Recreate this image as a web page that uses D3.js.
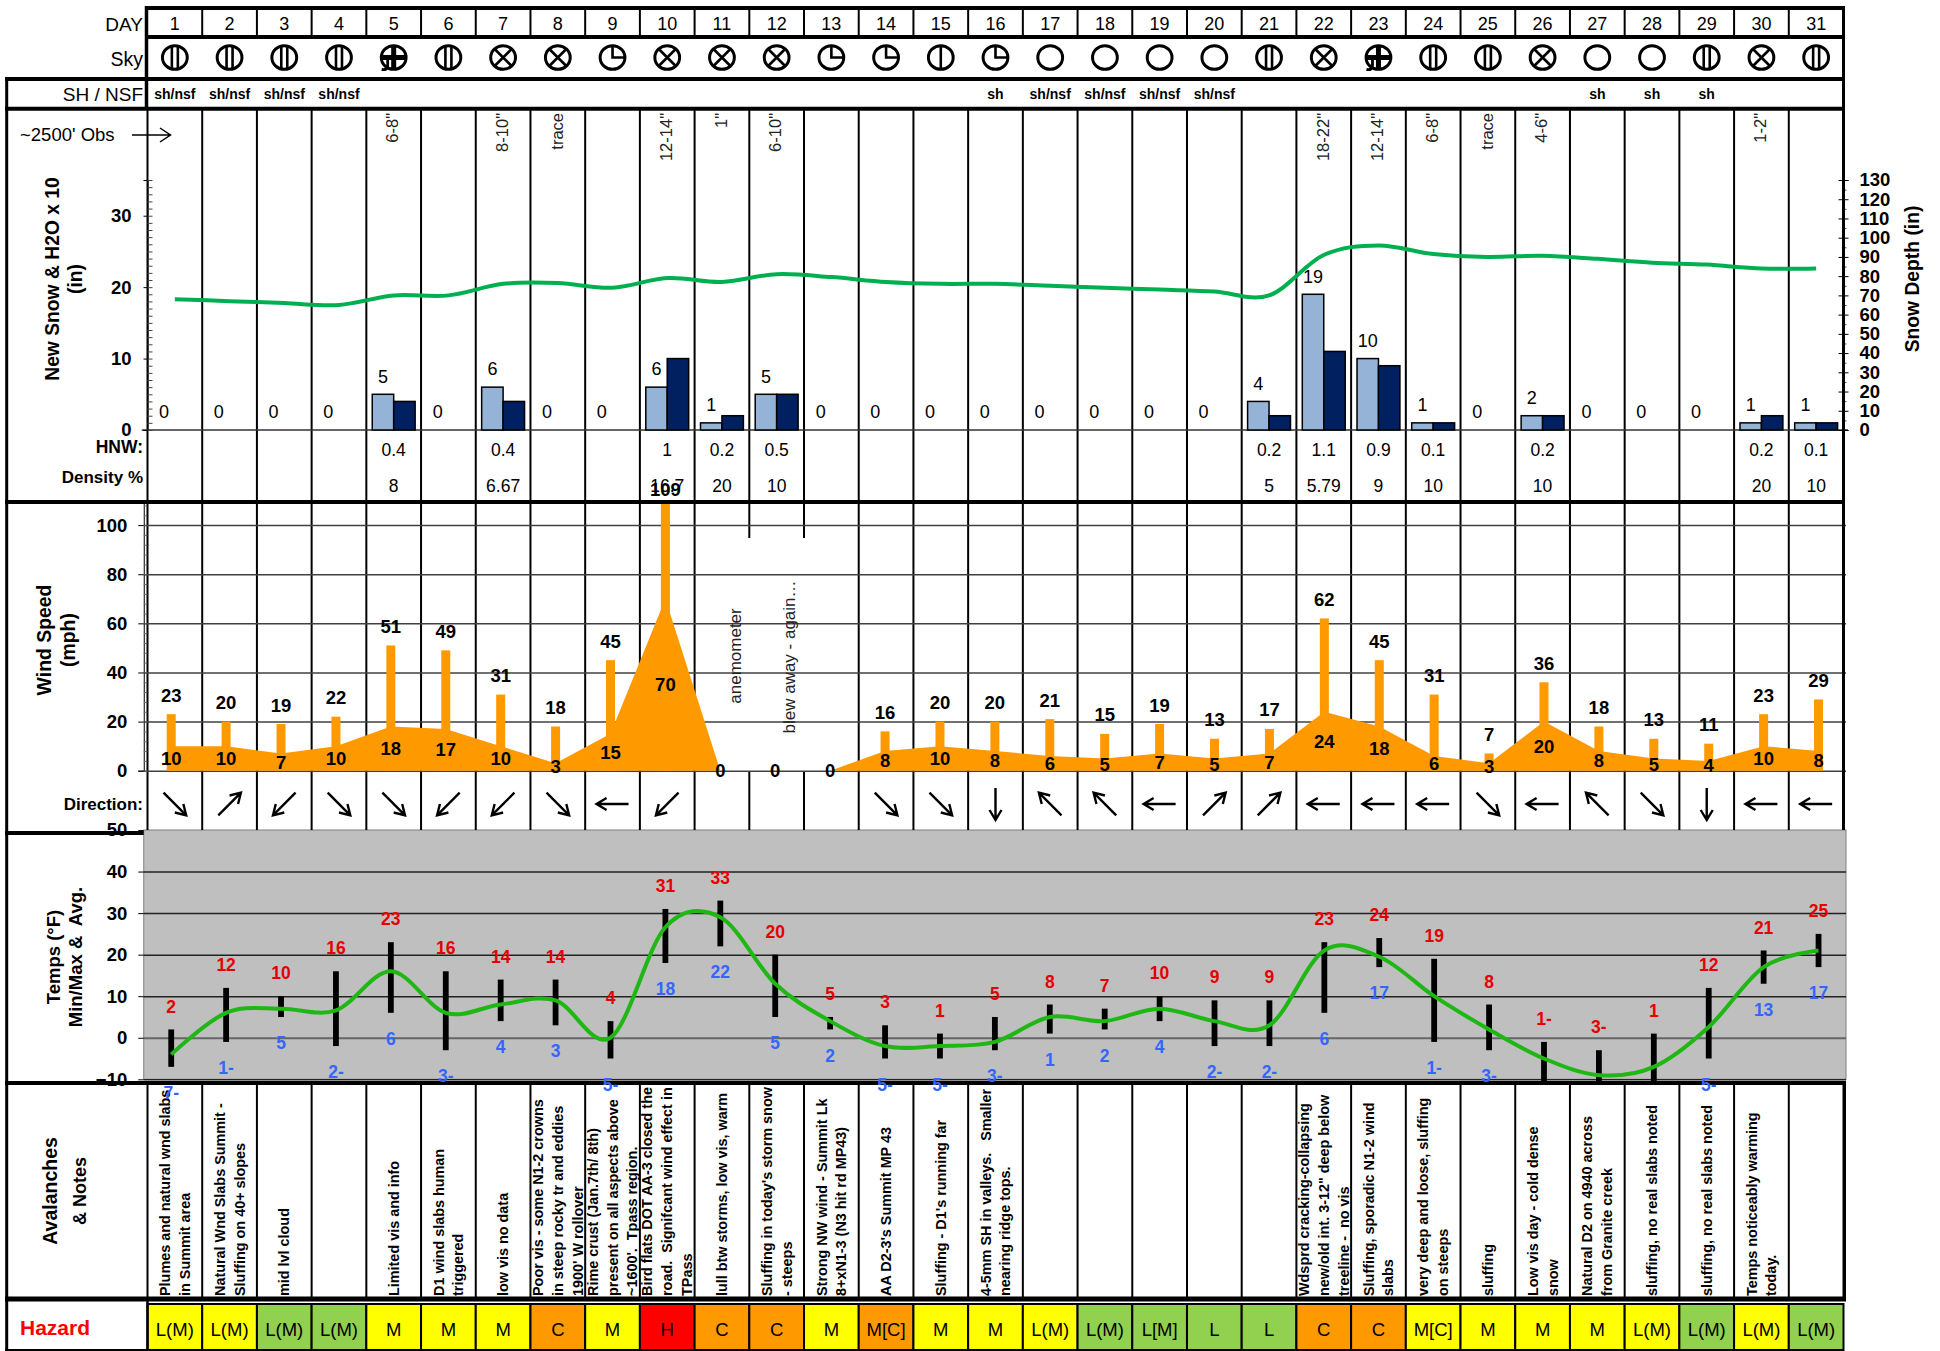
<!DOCTYPE html>
<html>
<head>
<meta charset="utf-8">
<style>
	body { margin: 0; background: #fff; }
	text { font-family: "Liberation Sans", Arial, sans-serif; white-space: pre; }
</style>
<script src="https://cdn.jsdelivr.net/npm/d3@7"></script>
</head>
<body>
<script>
const days = d3.range(1, 32);
const sky = ["bars", "bars", "bars", "bars", "plus", "bars", "x", "x", "quarter", "x", "x", "x", "quarter", "quarter", "half", "quarter", "clear", "clear", "clear", "clear", "bars", "x", "plus", "bars", "bars", "x", "clear", "clear", "bars", "x", "bars"];
const shNsf = ["sh/nsf", "sh/nsf", "sh/nsf", "sh/nsf", "", "", "", "", "", "", "", "", "", "", "", "sh", "sh/nsf", "sh/nsf", "sh/nsf", "sh/nsf", "", "", "", "", "", "", "sh", "sh", "sh", "", ""];
const obsAmount = ["", "", "", "", "6-8\"", "", "8-10\"", "trace", "", "12-14\"", "1\"", "6-10\"", "", "", "", "", "", "", "", "", "", "18-22\"", "12-14\"", "6-8\"", "trace", "4-6\"", "", "", "", "1-2\"", ""];
const newSnow = [0, 0, 0, 0, 5, 0, 6, 0, 0, 6, 1, 5, 0, 0, 0, 0, 0, 0, 0, 0, 4, 19, 10, 1, 0, 2, 0, 0, 0, 1, 1];
const h2o = [0, 0, 0, 0, 4, 0, 4, 0, 0, 10, 2, 5, 0, 0, 0, 0, 0, 0, 0, 0, 2, 11, 9, 1, 0, 2, 0, 0, 0, 2, 1];
const snowDepth = [68, 67, 66, 65, 70, 70, 76, 76.4, 74, 79, 77, 81, 79.5, 77, 76, 76, 75, 74, 73, 72, 70, 91, 96, 91.5, 90, 90.6, 89, 87, 86, 84, 84];
const hnw = ["", "", "", "", "0.4", "", "0.4", "", "", "1", "0.2", "0.5", "", "", "", "", "", "", "", "", "0.2", "1.1", "0.9", "0.1", "", "0.2", "", "", "", "0.2", "0.1"];
const density = ["", "", "", "", "8", "", "6.67", "", "", "16.7", "20", "10", "", "", "", "", "", "", "", "", "5", "5.79", "9", "10", "", "10", "", "", "", "20", "10"];
const windGust = [23, 20, 19, 22, 51, 49, 31, 18, 45, 109, null, null, null, 16, 20, 20, 21, 15, 19, 13, 17, 62, 45, 31, 7, 36, 18, 13, 11, 23, 29];
const windAvg = [10, 10, 7, 10, 18, 17, 10, 3, 15, 70, 0, 0, 0, 8, 10, 8, 6, 5, 7, 5, 7, 24, 18, 6, 3, 20, 8, 5, 4, 10, 8];
const windDir = ["SE", "NE", "SW", "SE", "SE", "SW", "SW", "SE", "W", "SW", "", "", "", "SE", "SE", "S", "NW", "NW", "W", "NE", "NE", "W", "W", "W", "SE", "W", "NW", "SE", "S", "W", "W"];
const tempMax = [2, 12, 10, 16, 23, 16, 14, 14, 4, 31, 33, 20, 5, 3, 1, 5, 8, 7, 10, 9, 9, 23, 24, 19, 8, -1, -3, 1, 12, 21, 25];
const tempMin = [-7, -1, 5, -2, 6, -3, 4, 3, -5, 18, 22, 5, 2, -5, -5, -3, 1, 2, 4, -2, -2, 6, 17, -1, -3, -12, -13, -12, -5, 13, 17];
const tempAvg = [-4, 6, 7, 6.6, 16, 6, 8, 9, 0, 26.6, 29, 13, 4, -2, -2, -1, 5, 4, 7, 4, 3, 21, 19.5, 10, 2, -5, -9, -7, 2.6, 17, 21];
// min labels for 26-28 fall off the panel in the original
const hiddenMinLabels = [26, 27, 28];
const notes = [
	["Plumes and natural wnd slabs", "in Summit area"],
	["Natural Wnd Slabs Summit -", "Sluffing on 40+ slopes"],
	["mid lvl cloud"],
	[],
	["Limited vis and info"],
	["D1 wind slabs human", "triggered"],
	["low vis no data"],
	["Poor vis - some N1-2 crowns", "in steep rocky tr and eddies", "1900' W rollover"],
	["Rime crust (Jan.7th/ 8th)", "present on all aspects above", "~1600'.  Tpass region."],
	["Bird flats DOT AA-3 closed the", "road.  Signifcant wind effect in", "TPass"],
	["lull btw storms, low vis, warm"],
	["Sluffing in today's storm snow", "- steeps"],
	["Strong NW wind - Summit Lk", "8+xN1-3 (N3 hit rd MP43)"],
	["AA D2-3's Summit MP 43"],
	["Sluffing - D1's running far"],
	["4-5mm SH in valleys.   Smaller", "nearing ridge tops."],
	[], [], [], [], [],
	["Wdsprd cracking-collapsing", "new/old int. 3-12\" deep below", "treeline -  no vis"],
	["Sluffing, sporadic N1-2 wind", "slabs"],
	["very deep and loose, sluffing", "on steeps"],
	["sluffing"],
	["Low vis day - cold dense", "snow"],
	["Natural D2 on 4940 across", "from Granite creek"],
	["sluffing, no real slabs noted"],
	["sluffing, no real slabs noted"],
	["Temps noticeably warming", "today."],
	[]
];
const hazard = ["L(M)", "L(M)", "L(M)", "L(M)", "M", "M", "M", "C", "M", "H", "C", "C", "M", "M[C]", "M", "M", "L(M)", "L(M)", "L[M]", "L", "L", "C", "C", "M[C]", "M", "M", "M", "L(M)", "L(M)", "L(M)", "L(M)"];
const hazardFill = ["y", "y", "g", "g", "y", "y", "y", "o", "y", "r", "o", "o", "y", "o", "y", "y", "y", "g", "g", "g", "g", "o", "o", "y", "y", "y", "y", "y", "g", "y", "g"];

const hazardColors = { y: "#ffff00", g: "#92d050", o: "#ff9900", r: "#ff0000" };
const compass = { N: 0, NE: 45, E: 90, SE: 135, S: 180, SW: 225, W: 270, NW: 315 };

const colLeft = 147.5, colRight = 1843.5;
const plotLeft = 143.75, plotRight = 1846;

const svg = d3.select("body").append("svg")
	.attr("width", 1940)
	.attr("height", 1351)
	.style("display", "block");

// columns of the table, and the slightly wider band the excel charts sat on
const xCol = d3.scaleBand().domain(days).range([colLeft, colRight]);
const xPlot = d3.scaleBand().domain(days).range([plotLeft, plotRight]);
const xBar = d3.scaleBand().domain(["snow", "h2o"]).range([5.9, 48.8]);

const snowY = d3.scaleLinear().domain([0, 35]).range([430, 180]);
const depthY = d3.scaleLinear().domain([0, 130]).range([430, 180]);
const windY = d3.scaleLinear().domain([0, 109]).range([770.7, 503]);
const tempY = d3.scaleLinear().domain([-10, 50]).range([1079.3, 830]);

const colCenter = d => xCol(d) + xCol.bandwidth() / 2;
const plotCenter = d => xPlot(d) + xPlot.bandwidth() / 2;

function label(g, x, y, txt, size, opts = {}) {
	return g.append("text")
		.attr("x", x)
		.attr("y", y)
		.attr("dy", "0.35em")
		.attr("text-anchor", opts.anchor || "middle")
		.attr("font-size", size + "px")
		.attr("font-weight", opts.bold ? "bold" : "normal")
		.attr("fill", opts.fill || "#000")
		.text(txt);
}

function rotLabel(g, x, y, txt, size, opts = {}) {
	return g.append("text")
		.attr("transform", `translate(${x},${y}) rotate(-90)`)
		.attr("dy", opts.dy || "0.35em")
		.attr("text-anchor", opts.anchor || "middle")
		.attr("font-size", size + "px")
		.attr("font-weight", opts.bold ? "bold" : "normal")
		.attr("fill", opts.fill || "#000")
		.text(txt);
}

function hLine(g, x1, x2, y, w, color = "#000") {
	g.append("line").attr("x1", x1).attr("x2", x2).attr("y1", y).attr("y2", y)
		.attr("stroke", color).attr("stroke-width", w);
}

function vLine(g, x, y1, y2, w, color = "#000") {
	g.append("line").attr("x1", x).attr("x2", x).attr("y1", y1).attr("y2", y2)
		.attr("stroke", color).attr("stroke-width", w);
}

function styleAxisText(g, size) {
	g.attr("font-family", null).attr("font-size", size).attr("font-weight", "bold");
	g.selectAll(".tick text").attr("fill", "#000");
}

/* ---- grey temp panel first, the table lines go over it ---- */
const base = svg.append("g");
base.append("rect")
	.attr("x", plotLeft).attr("y", tempY(50))
	.attr("width", plotRight - plotLeft).attr("height", tempY(-10) - tempY(50))
	.attr("fill", "#bfbfbf")
	.attr("stroke", "#7f7f7f").attr("stroke-width", 1);

/* ---- column lines ---- */
const colEdges = days.map(d => xCol(d)).concat([colRight]);
colEdges.forEach((x, i) => {
	if (i > 0 && i < 31) vLine(base, x, 8, 37, 2);
	// two lines are broken where the anemometer note sits
	if (i === 11 || i === 12) {
		vLine(base, x, 109, 538, 2);
		vLine(base, x, 771, 830, 2);
	} else {
		vLine(base, x, 109, 830, 2);
	}
	vLine(base, x, 1083, 1299, 2);
});

/* ---- wind and temp grids ---- */
base.append("g")
	.attr("transform", `translate(${plotLeft},0)`)
	.call(d3.axisRight(windY).tickValues(d3.range(0, 101, 20)).tickSize(plotRight - plotLeft).tickFormat(""))
	.call(g => g.select(".domain").remove())
	.selectAll("line").attr("stroke", "#404040").attr("stroke-width", 1.5);

base.append("g")
	.attr("transform", `translate(${plotLeft},0)`)
	.call(d3.axisRight(tempY).tickValues(d3.range(-10, 41, 10)).tickSize(plotRight - plotLeft).tickFormat(""))
	.call(g => g.select(".domain").remove())
	.selectAll("line")
	.attr("stroke", d => d === 0 ? "#666" : "#222")
	.attr("stroke-width", d => d === 0 ? 2 : 1.5);

/* ---- header rows ---- */
const header = svg.append("g");
days.forEach((d, i) => {
	label(header, colCenter(d), 24, d, 18);
	if (shNsf[i]) label(header, colCenter(d), 94, shNsf[i], 14, { bold: true });
	if (obsAmount[i]) rotLabel(header, colCenter(d) - 1, 113, obsAmount[i], 16.5, { anchor: "end", fill: "#222" });
	if (hnw[i]) label(header, colCenter(d), 450, hnw[i], 17.5);
	if (density[i]) label(header, colCenter(d), 486, density[i], 17.5);
});
label(header, 143, 24, "DAY", 19, { anchor: "end" });
label(header, 143, 59, "Sky", 19.5, { anchor: "end" });
label(header, 143, 94, "SH / NSF", 19, { anchor: "end" });
label(header, 20, 135, "~2500' Obs", 18.5, { anchor: "start" });
label(header, 143, 447, "HNW:", 17.5, { anchor: "end", bold: true });
label(header, 143, 477, "Density %", 17, { anchor: "end", bold: true });
label(header, 143, 804, "Direction:", 17, { anchor: "end", bold: true });

header.append("path")
	.attr("d", "M132,135H170M160,128L170.5,135L160,142")
	.attr("fill", "none").attr("stroke", "#000").attr("stroke-width", 1.5);

/* ---- sky symbols ---- */
const skyMarks = {
	bars: "M-3,-12V12M3,-12V12",
	x: "M-8.5,-8.5L8.5,8.5M8.5,-8.5L-8.5,8.5",
	quarter: "M0,-12.5V0H12.5",
	half: "M0,-12.5V12.5",
	clear: ""
};
days.forEach((d, i) => {
	const g = svg.append("g").attr("transform", `translate(${colCenter(d)},57.5)`);
	g.append("ellipse").attr("rx", 12.4).attr("ry", 11.8).attr("fill", "#fff").attr("stroke", "#000").attr("stroke-width", 3);
	if (sky[i] === "plus") {
		g.append("path").attr("d", "M0,-12.5V12.5M-12.5,0H12.5").attr("stroke", "#000").attr("stroke-width", 5);
		g.append("path").attr("d", "M-6,1V8Q-6,13-12,12").attr("fill", "none").attr("stroke", "#000").attr("stroke-width", 2.8);
	} else if (skyMarks[sky[i]]) {
		g.append("path").attr("d", skyMarks[sky[i]]).attr("fill", "none").attr("stroke", "#000").attr("stroke-width", 2.6);
	}
});

/* ---- snow chart ---- */
const snowChart = svg.append("g");
hLine(snowChart, plotLeft - 2, plotRight + 2, snowY(0), 1.5, "#333");

days.forEach((d, i) => {
	const x0 = xCol(d);
	if (newSnow[i] > 0) {
		snowChart.append("rect")
			.attr("x", x0 + xBar("snow")).attr("y", snowY(newSnow[i]))
			.attr("width", xBar.bandwidth()).attr("height", snowY(0) - snowY(newSnow[i]))
			.attr("fill", "#95b3d7").attr("stroke", "#000").attr("stroke-width", 1.5);
	}
	if (h2o[i] > 0) {
		snowChart.append("rect")
			.attr("x", x0 + xBar("h2o")).attr("y", snowY(h2o[i]))
			.attr("width", xBar.bandwidth()).attr("height", snowY(0) - snowY(h2o[i]))
			.attr("fill", "#002060").attr("stroke", "#000").attr("stroke-width", 1.5);
	}
	label(snowChart, x0 + xBar("snow") + xBar.bandwidth() / 2, snowY(newSnow[i]) - 18, newSnow[i], 18);
});

snowChart.append("path")
	.attr("d", d3.line().x(d => colCenter(d)).y((d, i) => depthY(snowDepth[i])).curve(d3.curveCatmullRom.alpha(0))(days))
	.attr("fill", "none").attr("stroke", "#00b050").attr("stroke-width", 4);

const snowAxis = snowChart.append("g")
	.attr("transform", `translate(${colLeft},0)`)
	.call(d3.axisLeft(snowY).tickValues([0, 10, 20, 30]).tickSize(4).tickPadding(12));
styleAxisText(snowAxis, 18.5);
snowChart.append("g")
	.attr("transform", `translate(${colLeft},0)`)
	.call(d3.axisRight(snowY).tickValues(d3.range(0, 36)).tickSize(5).tickFormat(""))
	.call(g => g.select(".domain").remove())
	.selectAll("line").attr("stroke", "#444");

const depthAxis = snowChart.append("g")
	.attr("transform", `translate(${colRight},0)`)
	.call(d3.axisRight(depthY).tickValues(d3.range(0, 131, 10)).tickSize(5).tickPadding(11));
styleAxisText(depthAxis, 18.5);
snowChart.append("g")
	.attr("transform", `translate(${colRight},0)`)
	.call(d3.axisLeft(depthY).tickValues(d3.range(0, 131, 10)).tickSize(5).tickFormat(""))
	.call(g => g.select(".domain").remove());
snowChart.append("g")
	.attr("transform", `translate(${colRight},0)`)
	.call(d3.axisRight(depthY).tickValues(d3.range(5, 131, 10)).tickSize(3).tickFormat(""))
	.call(g => g.select(".domain").remove())
	.selectAll("line").attr("stroke", "#444");

rotLabel(snowChart, 52, 279, "New Snow & H2O x 10", 19.3, { bold: true });
rotLabel(snowChart, 75, 279, "(in)", 19.3, { bold: true });
rotLabel(snowChart, 1912, 279, "Snow Depth (in)", 19.3, { bold: true });

/* ---- wind chart ---- */
const windChart = svg.append("g");
const windArea = d3.area()
	.x(d => plotCenter(d))
	.y0(windY(0))
	.y1((d, i) => windY(windAvg[i]));
windChart.append("path").attr("d", windArea(days)).attr("fill", "#ff9900");

const gustDays = days.filter((d, i) => windGust[i] !== null);
windChart.selectAll(".gust").data(gustDays).join("rect")
	.attr("class", "gust")
	.attr("x", d => plotCenter(d) - 4.5)
	.attr("y", d => windY(windGust[d - 1]))
	.attr("width", 9)
	.attr("height", d => windY(0) - windY(windGust[d - 1]))
	.attr("fill", "#ff9900");

days.forEach((d, i) => {
	// the 109 label gets pushed down against the top of the chart
	if (windGust[i] !== null) label(windChart, plotCenter(d), Math.max(windY(windGust[i]) - 19, 490), windGust[i], 18.5, { bold: true });
	label(windChart, plotCenter(d), windY(windAvg[i] / 2), windAvg[i], 18.5, { bold: true });
	if (windDir[i]) {
		windChart.append("path")
			.attr("transform", `translate(${colCenter(d)},804) rotate(${compass[windDir[i]]})`)
			.attr("d", "M0,16V-15M-6,-6L0,-16L6,-6")
			.attr("fill", "none").attr("stroke", "#000").attr("stroke-width", 2.4);
	}
});

rotLabel(windChart, 735, 656, "anemometer", 17, { fill: "#222" });
rotLabel(windChart, 789.5, 657, "blew away - again\u2026", 17, { fill: "#222" });

const windAxis = windChart.append("g")
	.attr("transform", `translate(${plotLeft},0)`)
	.call(d3.axisLeft(windY).tickValues(d3.range(0, 101, 20)).tickSize(5.5).tickPadding(11));
styleAxisText(windAxis, 18.5);
windChart.append("g")
	.attr("transform", `translate(${plotLeft},0)`)
	.call(d3.axisRight(windY).tickValues(d3.range(0, 109, 4)).tickSize(3.5).tickFormat(""))
	.call(g => g.select(".domain").remove())
	.selectAll("line").attr("stroke", "#666");

rotLabel(windChart, 44.6, 640, "Wind Speed", 19.4, { bold: true });
rotLabel(windChart, 68, 640, "(mph)", 19.4, { bold: true });

/* ---- temps chart ---- */
const tempChart = svg.append("g");
const tempAxis = tempChart.append("g")
	.attr("transform", `translate(${plotLeft},0)`)
	.call(d3.axisLeft(tempY).tickValues(d3.range(-10, 51, 10)).tickSize(5.5).tickPadding(11));
styleAxisText(tempAxis, 18.5);
tempAxis.select(".domain").remove();

rotLabel(tempChart, 53.6, 957, "Temps (\u00b0F)", 18.5, { bold: true });
rotLabel(tempChart, 76, 957, "Min/Max &  Avg.", 18.5, { bold: true });

// bars run off the bottom of the panel for the coldest days
svg.append("clipPath").attr("id", "tempClip").append("rect")
	.attr("x", plotLeft).attr("y", 830).attr("width", plotRight - plotLeft).attr("height", 253);

tempChart.append("g").attr("clip-path", "url(#tempClip)")
	.selectAll("rect").data(days).join("rect")
	.attr("x", d => plotCenter(d) - 2.9)
	.attr("y", d => tempY(tempMax[d - 1]))
	.attr("width", 5.8)
	.attr("height", d => tempY(tempMin[d - 1]) - tempY(tempMax[d - 1]))
	.attr("fill", "#000");

tempChart.append("path")
	.attr("d", d3.line().x(d => plotCenter(d)).y((d, i) => tempY(tempAvg[i])).curve(d3.curveCatmullRom.alpha(0))(days))
	.attr("fill", "none").attr("stroke", "#1fb714").attr("stroke-width", 4);

/* ---- notes and hazard ---- */
const lower = svg.append("g");
days.forEach((d, i) => {
	const lines = notes[i];
	lines.forEach((txt, j) => {
		rotLabel(lower, colCenter(d) + (j - (lines.length - 1) / 2) * 19.8, 1296, txt, 14.4, { anchor: "start", bold: true });
	});
});
rotLabel(lower, 50, 1191, "Avalanches", 19.5, { bold: true });
rotLabel(lower, 80, 1191, "& Notes", 18, { bold: true });

lower.selectAll(".cell").data(days).join("rect")
	.attr("class", "cell")
	.attr("x", d => xCol(d))
	.attr("y", 1304)
	.attr("width", xCol.bandwidth())
	.attr("height", 46)
	.attr("fill", d => hazardColors[hazardFill[d - 1]])
	.attr("stroke", "#000")
	.attr("stroke-width", 2);
days.forEach((d, i) => label(lower, colCenter(d), 1330, hazard[i], 18.5));
label(lower, 20, 1328, "Hazard", 21, { anchor: "start", bold: true, fill: "#ff0000" });

/* ---- heavy frame lines go last ---- */
const frame = svg.append("g");
hLine(frame, colLeft - 2, colRight + 1.5, 8, 4);
hLine(frame, colLeft, colRight, 37, 4);
hLine(frame, 5, colRight + 1.5, 79, 4);
hLine(frame, 5, colRight + 1.5, 108.7, 4);
hLine(frame, 5, colRight + 1.5, 502, 4);
hLine(frame, 5, plotLeft, 833, 4);
hLine(frame, 5, plotRight, 1083, 4);
hLine(frame, 5, plotRight, 1299, 5);
hLine(frame, 5, colLeft, 1350, 2);
vLine(frame, 6.7, 77, 1351, 3);
vLine(frame, colLeft - 1, 6, 110, 3.5);
vLine(frame, colLeft, 1299, 1350, 2.5);
vLine(frame, colRight, 6, 830, 3);
vLine(frame, plotRight - 1.5, 1083, 1301, 3);

/* ---- min and max labels sit on top of everything, same as the original ---- */
const tempLabels = svg.append("g");
const signed = v => v < 0 ? `${Math.abs(v)}-` : v;
days.forEach((d, i) => {
	label(tempLabels, plotCenter(d), tempY(tempMax[i]) - 23, signed(tempMax[i]), 17.5, { bold: true, fill: "#e60000" });
	if (!hiddenMinLabels.includes(d)) {
		label(tempLabels, plotCenter(d), tempY(tempMin[i]) + 26, signed(tempMin[i]), 17.5, { bold: true, fill: "#3366ff" });
	}
});
</script>
</body>
</html>
